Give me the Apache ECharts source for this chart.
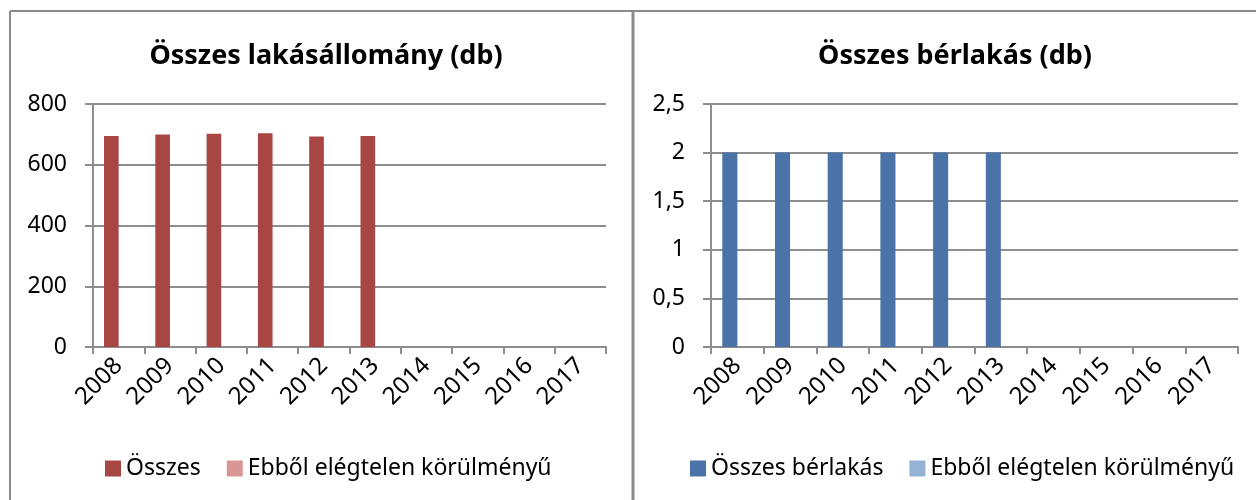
<!DOCTYPE html>
<html>
<head>
<meta charset="utf-8">
<script src="https://cdn.jsdelivr.net/npm/echarts@6/dist/echarts.min.js"></script>
<style>
  html, body { margin: 0; padding: 0; background: #fff; }
  #main { width: 1256px; height: 500px; }
</style>
</head>
<body>
<div id="main"></div>
<script>
const years = ['2008', '2009', '2010', '2011', '2012', '2013', '2014', '2015', '2016', '2017'];
const osszes = [695, 700, 702, 704, 693, 695, null, null, null, null];
const osszesElegtelen = [null, null, null, null, null, null, null, null, null, null];
const berlakas = [2, 2, 2, 2, 2, 2, null, null, null, null];
const berlakasElegtelen = [null, null, null, null, null, null, null, null, null, null];

const FONT = 'Noto Sans';
const gridColor = '#8e8e8e';

function xAxisFor(gridIndex) {
  return {
    type: 'category', gridIndex, data: years,
    axisLine: { lineStyle: { color: gridColor, width: 2 } },
    axisTick: { show: true, length: 7, lineStyle: { color: gridColor, width: 2 } },
    axisLabel: { rotate: 45, color: '#000', fontFamily: FONT, fontSize: 24, margin: 15 },
  };
}
function yAxisFor(gridIndex, max, interval, fmt) {
  return {
    type: 'value', gridIndex, min: 0, max, interval,
    axisLine: { show: true, lineStyle: { color: gridColor, width: 2 } },
    axisTick: { show: true, length: 8, lineStyle: { color: gridColor, width: 2 } },
    splitLine: { lineStyle: { color: gridColor, width: 2 } },
    axisLabel: { color: '#000', fontFamily: FONT, fontSize: 23, margin: 26, formatter: fmt },
  };
}
const barOpts = { barGap: '0%', barCategoryGap: '42.86%' };
const legendText = { fontFamily: FONT, fontSize: 23, color: '#000' };

const chart = echarts.init(document.getElementById('main'));
chart.setOption({
  animation: false,
  title: [
    { text: 'Összes lakásállomány (db)', left: 321, top: 38, textAlign: 'center',
      textStyle: { fontFamily: FONT, fontSize: 27, fontWeight: 'bold', color: '#000' } },
    { text: 'Összes bérlakás (db)', left: 950, top: 38, textAlign: 'center',
      textStyle: { fontFamily: FONT, fontSize: 27, fontWeight: 'bold', color: '#000' } },
  ],
  legend: [
    { data: ['Összes', 'Ebből elégtelen körülményű'], left: 100, top: 452, itemWidth: 16, itemHeight: 16, itemGap: 26,
      icon: 'rect', textStyle: legendText },
    { data: ['Összes bérlakás', 'Ebből elégtelen körülményű '], left: 685, top: 452, itemWidth: 16, itemHeight: 16, itemGap: 26,
      icon: 'rect', textStyle: legendText },
  ],
  grid: [
    { left: 93, top: 104, width: 513, height: 243 },
    { left: 711, top: 104, width: 527, height: 243 },
  ],
  xAxis: [xAxisFor(0), xAxisFor(1)],
  yAxis: [
    yAxisFor(0, 800, 200),
    yAxisFor(1, 2.5, 0.5, v => String(v).replace('.', ',')),
  ],
  graphic: [
    { type: 'line', shape: { x1: 10, y1: 11, x2: 1256, y2: 11 }, style: { stroke: '#8a8a8a', lineWidth: 2 } },
    { type: 'line', shape: { x1: 10, y1: 11, x2: 10, y2: 500 }, style: { stroke: '#8a8a8a', lineWidth: 2 } },
    { type: 'line', shape: { x1: 633, y1: 11, x2: 633, y2: 500 }, style: { stroke: '#8a8a8a', lineWidth: 3 } },
  ],
  series: [
    { name: 'Összes', type: 'bar', xAxisIndex: 0, yAxisIndex: 0, data: osszes, itemStyle: { color: '#a84644' }, ...barOpts },
    { name: 'Ebből elégtelen körülményű', type: 'bar', xAxisIndex: 0, yAxisIndex: 0, data: osszesElegtelen, itemStyle: { color: '#d99694' }, ...barOpts },
    { name: 'Összes bérlakás', type: 'bar', xAxisIndex: 1, yAxisIndex: 1, data: berlakas, itemStyle: { color: '#4a73a8' }, ...barOpts },
    { name: 'Ebből elégtelen körülményű ', type: 'bar', xAxisIndex: 1, yAxisIndex: 1, data: berlakasElegtelen, itemStyle: { color: '#95b3d7' }, ...barOpts },
  ],
});
</script>
</body>
</html>
